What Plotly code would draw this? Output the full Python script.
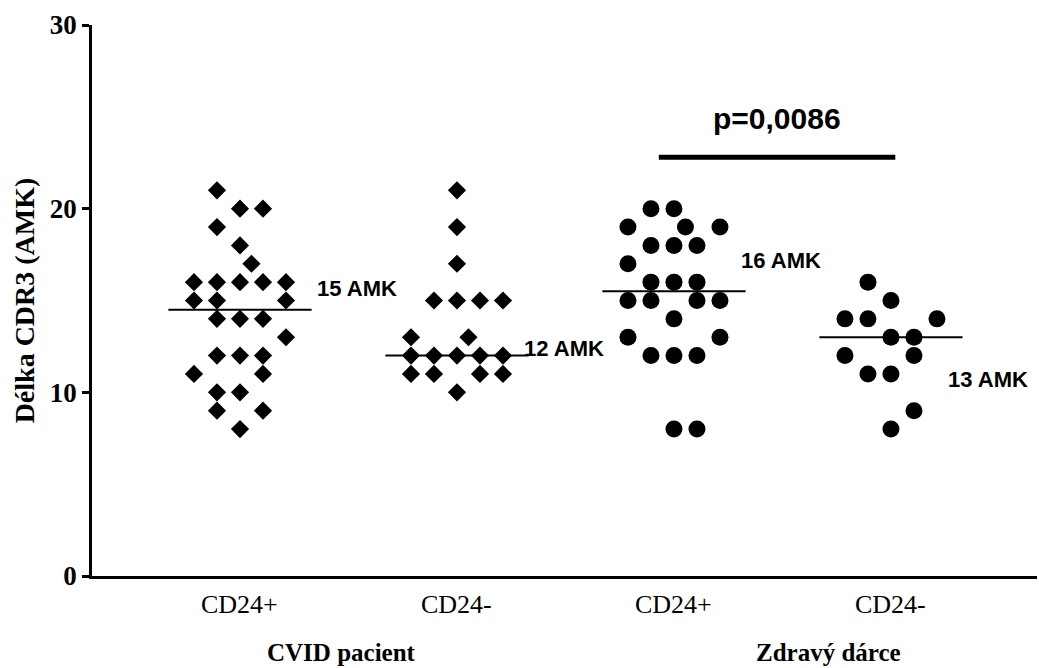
import numpy as np
import plotly.graph_objects as go

# ---- data ----
categories = ["CD24+", "CD24-", "CD24+", "CD24-"]
groups = ["CVID pacient", "Zdravý dárce"]
median_labels = ["15 AMK", "12 AMK", "16 AMK", "13 AMK"]
p_label = "p=0,0086"

cvid_cd24pos = [21, 20, 20, 19, 18, 17, 16, 16, 16, 16, 16, 15, 15, 15, 14, 14, 14,
                13, 12, 12, 12, 11, 11, 10, 10, 9, 9, 8]
cvid_cd24pos_col = [-1, 0, 1, -1, 0, 0.5, -2, -1, 0, 1, 2, -2, -1, 2, -1, 0, 1,
                    2, -1, 0, 1, -2, 1, -1, 0, -1, 1, 0]

cvid_cd24neg = [21, 19, 17, 15, 15, 15, 15, 13, 13, 12, 12, 12, 12, 12, 11, 11, 11, 11, 10]
cvid_cd24neg_col = [0, 0, 0, -1, 0, 1, 2, -2, 0.5, -2, -1, 0, 1, 2, -2, -1, 1, 2, 0]

zdr_cd24pos = [20, 20, 19, 19, 19, 18, 18, 18, 17, 16, 16, 16, 15, 15, 15, 15, 14,
               13, 13, 12, 12, 12, 8, 8]
zdr_cd24pos_col = [-1, 0, -2, 0.5, 2, -1, 0, 1, -2, -1, 0, 1, -2, -1, 1, 2, 0,
                   -2, 2, -1, 0, 1, 0, 1]

zdr_cd24neg = [16, 15, 14, 14, 14, 13, 13, 12, 12, 11, 11, 9, 8]
zdr_cd24neg_col = [-1, 0, -2, -1, 2, 0, 1, -2, 1, -1, 0, 1, 0]

series = [cvid_cd24pos, cvid_cd24neg, zdr_cd24pos, zdr_cd24neg]
cols = [cvid_cd24pos_col, cvid_cd24neg_col, zdr_cd24pos_col, zdr_cd24neg_col]
symbols = ["diamond", "diamond", "circle", "circle"]
sizes = [14, 14, 17, 17]

STEP = 0.106
SERIF = "Liberation Serif, Times New Roman, serif"
SANS = "Liberation Sans, Arial, sans-serif"

fig = go.Figure()
for i, (vals, cc) in enumerate(zip(series, cols)):
    xc = i + 1
    fig.add_trace(go.Scatter(
        x=[xc + c * STEP for c in cc], y=vals, mode="markers",
        marker=dict(symbol=symbols[i], size=sizes[i], color="black", line=dict(width=0)),
        showlegend=False, hoverinfo="y"))
    med = float(np.median(vals))
    fig.add_trace(go.Scatter(
        x=[xc - 0.33, xc + 0.33], y=[med, med], mode="lines",
        line=dict(color="black", width=2), showlegend=False, hoverinfo="skip"))

# median labels
label_pos = [(1.346, 15.65), (2.30, 12.4), (3.30, 17.2), (4.253, 10.7)]
for (lx, ly), t in zip(label_pos, median_labels):
    fig.add_annotation(x=lx, y=ly, text="<b>" + t + "</b>", showarrow=False,
                       xanchor="left", yanchor="middle",
                       font=dict(family=SANS, size=22, color="black"))

# p-value bar
fig.add_shape(type="line", x0=2.93, x1=4.02, y0=22.8, y1=22.8,
              line=dict(color="black", width=5))
fig.add_annotation(x=3.475, y=24.9, text="<b>" + p_label + "</b>", showarrow=False,
                   font=dict(family=SANS, size=30, color="black"))

# category labels
for i, c in enumerate(categories):
    fig.add_annotation(x=i + 1, y=0, yref="y", text=c, showarrow=False, yanchor="middle",
                       yshift=-28, font=dict(family=SERIF, size=26, color="black"))
# group labels
for gx, g in zip([1.47, 3.71], groups):
    fig.add_annotation(x=gx, y=0, yref="y", text="<b>" + g + "</b>", showarrow=False,
                       yanchor="middle", yshift=-76, font=dict(family=SERIF, size=25, color="black"))

fig.update_layout(
    width=1039, height=668,
    margin=dict(l=92, r=2, t=25, b=92),
    plot_bgcolor="white", paper_bgcolor="white",
    xaxis=dict(range=[0.318, 4.673], showgrid=False, zeroline=False, showticklabels=False,
               ticks="", showline=True, linecolor="black", linewidth=2.5),
    yaxis=dict(range=[0, 30], tickvals=[0, 10, 20, 30], showgrid=False, zeroline=False,
               ticks="outside", ticklen=7, tickwidth=2.5, tickcolor="black",
               showline=True, linecolor="black", linewidth=2.5,
               tickfont=dict(family=SERIF, size=27, color="black", weight="bold"),
               title=dict(text="<b>Délka CDR3 (AMK)</b>", standoff=8,
                          font=dict(family=SERIF, size=28, color="black"))),
)

fig.write_html("out.html")
